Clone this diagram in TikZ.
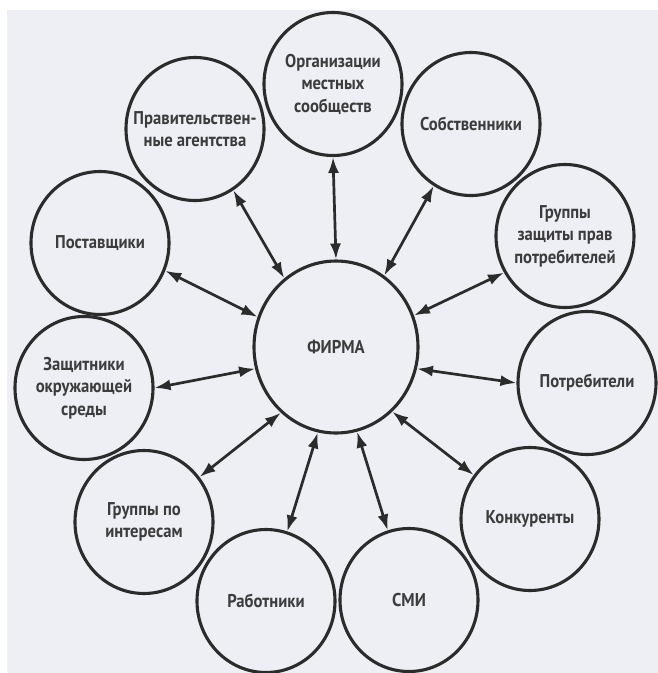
\documentclass[tikz,border=0pt]{standalone}
\usepackage{fontspec}
\setmainfont{PT Sans}
\newfontfamily\bubblefont{PT Sans}[FakeStretch=0.9]
\usepackage{tikz}
\usetikzlibrary{arrows.meta,shapes.geometric}
\definecolor{SHInk}{HTML}{2B2B2B}
\definecolor{SHText}{HTML}{3C3C3C}
\definecolor{SHPaper}{HTML}{EDEFF5}
\tikzset{
  shBubble/.style={
    ellipse, draw=SHInk, line width=3.1pt,
    inner xsep=-22pt, inner ysep=-2pt,
    minimum width=#1, minimum height=143pt,
    align=center, text=SHText,
    font=\bubblefont\bfseries\fontsize{18.5}{22.5}\selectfont
  },
  shBubble/.default=138pt,
  shFirm/.style={
    shBubble=164pt, minimum height=172pt
  },
  shLink/.style={
    {Latex[length=16pt,width=11pt]}-{Latex[length=16pt,width=11pt]},
    draw=SHInk, line width=2.7pt
  }
}

\begin{document}
\begin{tikzpicture}[x=1pt,y=-1pt]
  \useasboundingbox (0,0) rectangle (658,673);
  \fill[SHPaper] (7,10) rectangle (658,673);

  % the firm in the middle
  \node[shFirm] (firm) at (336,347) {ФИРМА};

  % stakeholders around it, clockwise from the top
  \node[shBubble] (orgs) at (333,84) {Организации\\местных\\сообществ};
  \node[shBubble] (owners) at (471,124) {Собственники};
  \node[shBubble] (cgroups) at (565,236) {Группы\\защиты прав\\потребителей};
  \node[shBubble] (buyers) at (587,383) {Потребители};
  \node[shBubble] (rivals) at (530,519) {Конкуренты};
  \node[shBubble] (media) at (409,600) {СМИ};
  \node[shBubble] (staff) at (266,601) {Работники};
  \node[shBubble] (interest) at (144,522) {Группы по\\интересам};
  \node[shBubble] (green) at (84,388) {Защитники\\окружающей\\среды};
  \node[shBubble] (suppl) at (100,243) {Поставщики};
  \node[shBubble] (govt) at (195,129) {Правительствен-\\ные агентства};

  \draw[shLink] (orgs.270) -- (firm.90);
  \draw[shLink] (owners.239) -- (firm.56);
  \draw[shLink] (cgroups.211) -- (firm.22);
  \draw[shLink] (buyers.180) -- (firm.-15);
  \draw[shLink] (rivals.142) -- (firm.-49);
  \draw[shLink] (media.107) -- (firm.-76);
  \draw[shLink] (staff.73) -- (firm.-102);
  \draw[shLink] (interest.39) -- (firm.-130);
  \draw[shLink] (green.0) -- (firm.195);
  \draw[shLink] (suppl.-23) -- (firm.159);
  \draw[shLink] (govt.-58) -- (firm.127);
\end{tikzpicture}
\end{document}
